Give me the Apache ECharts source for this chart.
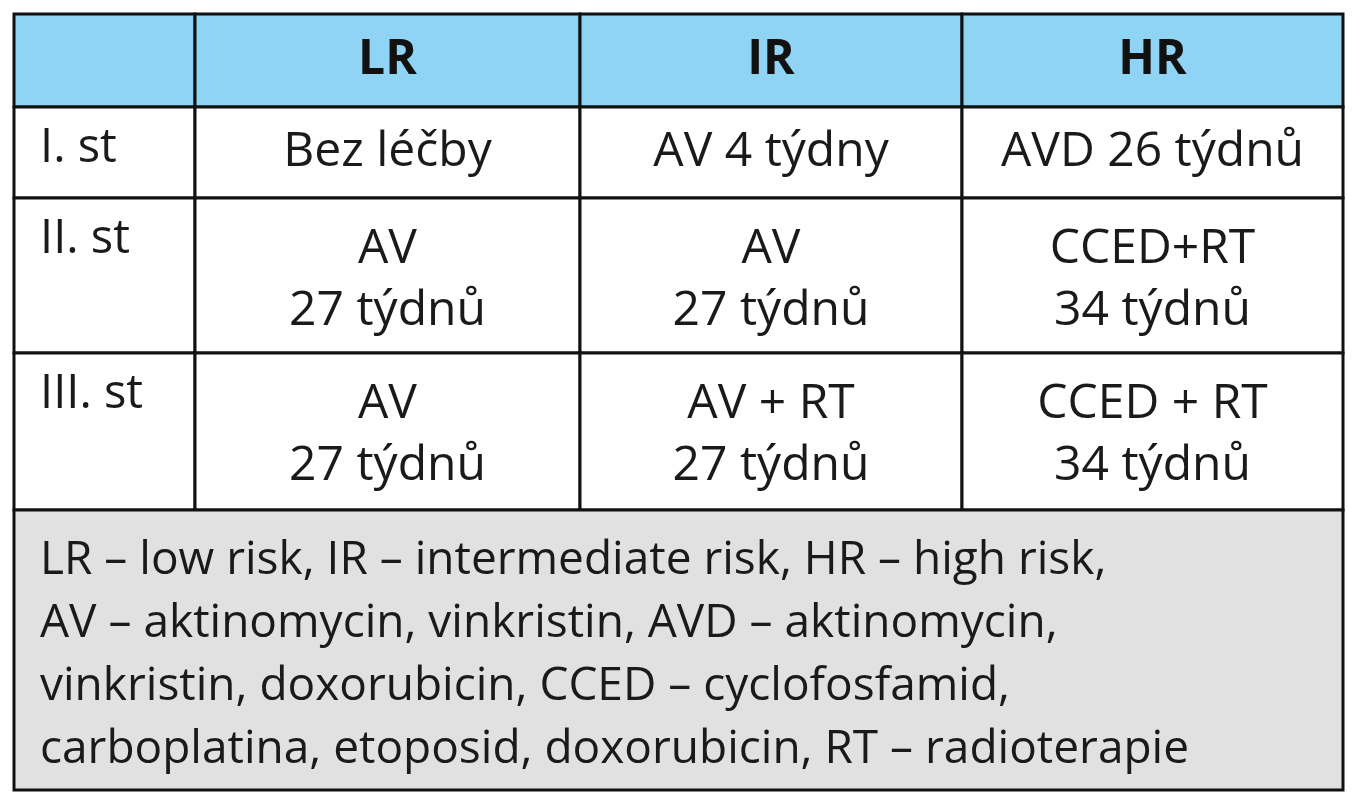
<!DOCTYPE html>
<html><head><meta charset="utf-8">
<script src="https://cdn.jsdelivr.net/npm/echarts@6/dist/echarts.min.js"></script>
<style>html,body{margin:0;padding:0;background:#fff}#c{width:1362px;height:800px}</style>
</head><body><div id="c"></div>
<script>
// table content
var headers = ['', 'LR', 'IR', 'HR'];
var rowLabels = ['I. st', 'II. st', 'III. st'];
var cells = [
  ['Bez léčby', 'AV 4 týdny', 'AVD 26 týdnů'],
  ['AV\n27 týdnů', 'AV\n27 týdnů', 'CCED+RT\n34 týdnů'],
  ['AV\n27 týdnů', 'AV + RT\n27 týdnů', 'CCED + RT\n34 týdnů']
];
var footnote = 'LR – low risk, IR – intermediate risk, HR – high risk,\nAV – aktinomycin, vinkristin, AVD – aktinomycin,\nvinkristin, doxorubicin, CCED – cyclofosfamid,\ncarboplatina, etoposid, doxorubicin, RT – radioterapie';

// layout (grid edges in pixel units of the value axes)
var colEdges = [14, 195, 580, 962, 1343];
var rowEdges = [14, 107, 198, 353, 510, 790];

var items = [];
for (var c = 0; c < 4; c++) items.push({r: 0, c: c, text: headers[c], kind: 'head'});
for (var r = 0; r < 3; r++) {
  items.push({r: r + 1, c: 0, text: rowLabels[r], kind: 'label'});
  for (var c = 0; c < 3; c++) items.push({r: r + 1, c: c + 1, text: cells[r][c], kind: 'body'});
}
items.push({r: 4, c: 0, c2: 4, text: footnote, kind: 'foot'});

var data = items.map(function (it) {
  return [colEdges[it.c], colEdges[it.c2 || it.c + 1], rowEdges[it.r], rowEdges[it.r + 1]];
});

var chart = echarts.init(document.getElementById('c'));
chart.setOption({
  animation: false,
  grid: {left: 0, top: 0, width: 1362, height: 800},
  xAxis: {type: 'value', min: 0, max: 1362, show: false},
  yAxis: {type: 'value', min: 0, max: 800, inverse: true, show: false},
  series: [{
    type: 'custom',
    data: data,
    renderItem: function (params, api) {
      var it = items[params.dataIndex];
      var p0 = api.coord([api.value(0), api.value(2)]);
      var p1 = api.coord([api.value(1), api.value(3)]);
      var w = p1[0] - p0[0], h = p1[1] - p0[1];
      var fill = it.kind === 'head' ? '#8fd4f5' : (it.kind === 'foot' ? '#e1e1e1' : '#fff');
      var txt;
      var font = '"Open Sans", "Noto Sans", sans-serif';
      if (it.kind === 'foot') {
        txt = {type: 'text', style: {x: p0[0] + 26, y: p0[1] + 19, text: it.text, fill: '#1a1a1a',
          font: '46px ' + font, lineHeight: 63, textAlign: 'left', textVerticalAlign: 'top'}};
      } else if (it.kind === 'label') {
        txt = {type: 'text', style: {x: p0[0] + 26, y: p0[1] + 18, text: it.text, fill: '#1a1a1a',
          font: '47px ' + font, textAlign: 'left', textVerticalAlign: 'top'}};
      } else if (it.kind === 'head') {
        txt = {type: 'text', style: {x: p0[0] + w / 2, y: p0[1] + h / 2, text: it.text, fill: '#111',
          font: 'bold 48px ' + font, textAlign: 'center', textVerticalAlign: 'middle'}};
      } else {
        var multi = it.text.indexOf('\n') >= 0;
        txt = {type: 'text', style: {x: p0[0] + w / 2, y: multi ? p0[1] + 20 : p0[1] + h / 2, text: it.text, fill: '#1a1a1a',
          font: '48px ' + font, lineHeight: 62, textAlign: 'center', textVerticalAlign: multi ? 'top' : 'middle'}};
      }
      return {type: 'group', children: [
        {type: 'rect', shape: {x: p0[0], y: p0[1], width: w, height: h},
          style: {fill: fill, stroke: '#111', lineWidth: 3}},
        txt
      ]};
    }
  }]
});
</script></body></html>
